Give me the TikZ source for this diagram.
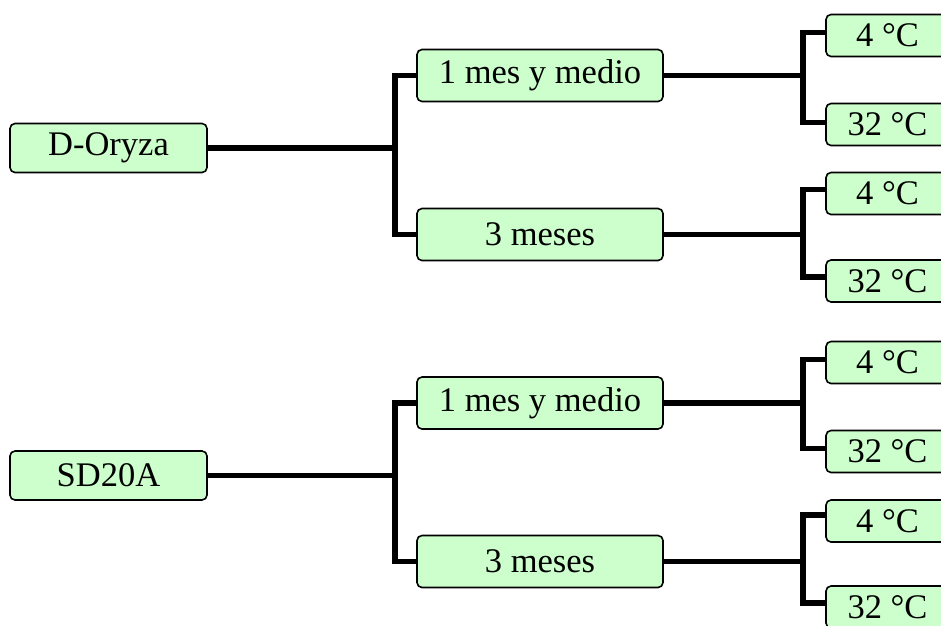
\documentclass[tikz,border=0pt]{standalone}
\usepackage{fontspec}
\setmainfont{Liberation Serif}
\definecolor{boxgreen}{HTML}{CCFFCC}
\begin{document}
\begin{tikzpicture}[x=1pt,y=-1pt,
  box/.style={draw=black, rounded corners=5pt, fill=boxgreen, line width=1.6pt, inner sep=0pt,
    font=\fontsize{34.5}{40}\selectfont, align=center},
  lvlzero/.style={box, minimum width=197pt, minimum height=49pt},
  lvlone/.style={box, minimum width=246pt, minimum height=52pt},
  lvltwo/.style={box, minimum width=123pt, minimum height=42pt},
  conn/.style={line width=5.5pt, line join=miter}]
\useasboundingbox (0,0) rectangle (941,625);
\clip (0,0) rectangle (941,625);
% level 0
\node[lvlzero] (dor) at (108.5,148) {D-Oryza};
\node[lvlzero] (sd) at (108.5,475.5) {SD20A};
% level 1
\node[lvlone] (m1a) at (540,75.5) {1 mes y medio};
\node[lvlone] (m3a) at (540,234.5) {3 meses};
\node[lvlone] (m1b) at (540,403) {1 mes y medio};
\node[lvlone] (m3b) at (540,561.5) {3 meses};
% level 2
\node[lvltwo] (ta1) at (887.5,35.5) {4 °C};
\node[lvltwo] (ta2) at (887.5,124.5) {32 °C};
\node[lvltwo] (tb1) at (887.5,193.5) {4 °C};
\node[lvltwo] (tb2) at (887.5,281) {32 °C};
\node[lvltwo] (tc1) at (887.5,362.5) {4 °C};
\node[lvltwo] (tc2) at (887.5,451.5) {32 °C};
\node[lvltwo] (td1) at (887.5,521) {4 °C};
\node[lvltwo] (td2) at (887.5,607) {32 °C};
% junctions
\coordinate (ja) at (395,148);
\coordinate (jb) at (395,475.5);
\coordinate (ka) at (803,75.5);
\coordinate (kb) at (803,234.5);
\coordinate (kc) at (803,403);
\coordinate (kd) at (803,561.5);
% connectors
\draw[conn] (dor.east) -- (ja);
\draw[conn] (m1a.west) -| (ja) |- (m3a.west);
\draw[conn] (sd.east) -- (jb);
\draw[conn] (m1b.west) -| (jb) |- (m3b.west);
\draw[conn] (m1a.east) -- (ka);
\draw[conn] ([yshift=3pt]ta1.west) -| (ka) |- ([yshift=2pt]ta2.west);
\draw[conn] (m3a.east) -- (kb);
\draw[conn] ([yshift=4pt]tb1.west) -| (kb) |- ([yshift=4pt]tb2.west);
\draw[conn] (m1b.east) -- (kc);
\draw[conn] ([yshift=3pt]tc1.west) -| (kc) |- ([yshift=3pt]tc2.west);
\draw[conn] (m3b.east) -- (kd);
\draw[conn] ([yshift=6pt]td1.west) -| (kd) |- ([yshift=4pt]td2.west);
\end{tikzpicture}
\end{document}
